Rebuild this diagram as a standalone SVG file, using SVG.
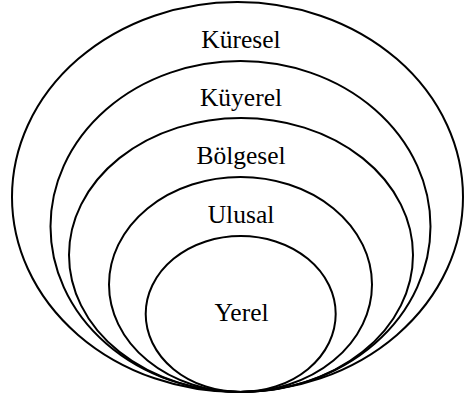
<svg xmlns="http://www.w3.org/2000/svg" width="464" height="399" viewBox="0 0 464 399">
<style>
.e{fill:none;stroke:#000;stroke-width:2}
.t{font-family:"Liberation Serif","Times New Roman",serif;font-size:25.5px;text-anchor:middle;fill:#000}
</style>
<rect width="464" height="399" fill="#fff"/>
<g id="kuresel"><ellipse class="e" cx="237.5" cy="197" rx="225.5" ry="195"/><text class="t" x="241" y="48">Küresel</text></g>
<g id="kuyerel"><ellipse class="e" cx="240.5" cy="226.5" rx="190" ry="165.5"/><text class="t" x="241" y="106">Küyerel</text></g>
<g id="bolgesel"><ellipse class="e" cx="241" cy="255" rx="172" ry="137"/><text class="t" x="241" y="164">Bölgesel</text></g>
<g id="ulusal"><ellipse class="e" cx="240.5" cy="284.5" rx="131.5" ry="107.5"/><text class="t" x="241" y="222.5">Ulusal</text></g>
<g id="yerel"><ellipse class="e" cx="240.7" cy="314" rx="95" ry="78"/><text class="t" x="241.5" y="320.5">Yerel</text></g>
<g id="connectors"/>
</svg>
